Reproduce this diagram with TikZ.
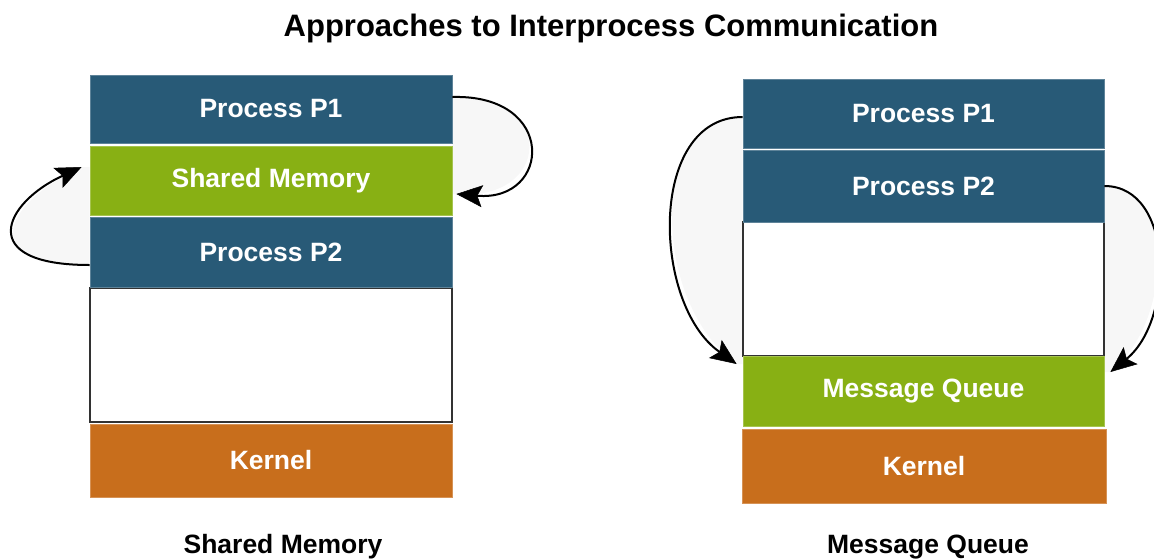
\documentclass[tikz,border=0pt]{standalone}
\usepackage{fontspec}
\setmainfont{Liberation Sans}
\usetikzlibrary{arrows.meta,backgrounds}
\definecolor{pblue}{RGB}{40,90,119}
\definecolor{sgreen}{RGB}{136,176,20}
\definecolor{korange}{RGB}{200,110,28}
\definecolor{edgegray}{RGB}{50,50,50}
\begin{document}
\begin{tikzpicture}[x=1pt,y=-1pt,
  layer/.style={rectangle, inner sep=0pt, draw=#1!75!white, line width=0.8pt, fill=#1,
    text=white, font=\fontsize{26.5}{30}\selectfont\bfseries},
  emptybox/.style={rectangle, inner sep=0pt, draw=edgegray, line width=1.5pt, fill=white},
  caption/.style={anchor=base, font=\fontsize{26.5}{30}\selectfont\bfseries, text=black},
  ipcarrow/.style={draw=black, line width=2pt,
    -{Stealth[length=26pt,width=22pt,inset=5pt,fill=black,line width=0.5pt]}},
  ipcshade/.style={fill=black!3}
]
\useasboundingbox (0,0) rectangle (1154,558);

% title
\node[anchor=base, font=\fontsize{31}{36}\selectfont\bfseries] (title) at (611,36) {Approaches to Interprocess Communication};

% left stack: shared memory
\node[emptybox, minimum width=362pt, minimum height=134pt] (lw) at (271,355) {};
\node[layer=pblue, minimum width=362pt, minimum height=68pt] (l1) at (271,109) {Process P1};
\node[layer=sgreen, minimum width=362pt, minimum height=69pt] (sm) at (271,180.5) {Shared Memory};
\node[layer=pblue, minimum width=362pt, minimum height=70pt] (l2) at (271,252) {Process P2};
\node[layer=korange, minimum width=362pt, minimum height=73pt] (lk) at (271,460.5) {Kernel};
\node[caption] (lcap) at (283,553) {Shared Memory};

% right stack: message queue
\node[emptybox, minimum width=361pt, minimum height=134pt] (rw) at (923.5,289) {};
\node[layer=pblue, minimum width=361pt, minimum height=69pt] (r1) at (923.5,113.5) {Process P1};
\node[layer=pblue, minimum width=361pt, minimum height=72pt] (r2) at (923.5,186) {Process P2};
\node[layer=sgreen, minimum width=361pt, minimum height=70pt] (mq) at (923.5,391) {Message Queue};
\node[layer=korange, minimum width=364pt, minimum height=74pt] (rk) at (924,466) {Kernel};
\node[caption] (rcap) at (928,553) {Message Queue};

% end points of the connectors
\coordinate (a1s) at ([yshift=12pt]l1.east);
\coordinate (a1e) at ([xshift=4pt,yshift=-13.5pt]sm.east);
\coordinate (a2s) at ([yshift=-13pt]l2.west);
\coordinate (a2e) at ([xshift=-8pt,yshift=13.5pt]sm.west);
\coordinate (a3s) at ([yshift=-3.5pt]r1.west);
\coordinate (a3e) at ([xshift=-6pt,yshift=27pt]mq.west);
\coordinate (a4s) at (r2.east);
\coordinate (a4e) at ([xshift=6pt,yshift=19pt]mq.east);

\begin{scope}[on background layer]
\fill[ipcshade] (a1s) .. controls +(105,-3) and +(95,8) .. (a1e) -- (a1e -| l1.east) -- cycle;
\fill[ipcshade] (a2s) .. controls +(-115,0) and +(-78,36) .. (a2e) -- (a2e -| l1.west) -- cycle;
\fill[ipcshade] (a3s) .. controls +(-95,0) and +(-85,-60) .. (a3e) -- (a3e -| r1.west) -- cycle;
\fill[ipcshade] (a4s) .. controls +(70,0) and +(64,-52) .. (a4e) -- (a4e -| r1.east) -- cycle;
\end{scope}

% arrows, left stack
\draw[ipcarrow] (a1s) .. controls +(105,-3) and +(95,8) .. (a1e);
\draw[ipcarrow] (a2s) .. controls +(-115,0) and +(-78,36) .. (a2e);
% arrows, right stack
\draw[ipcarrow] (a3s) .. controls +(-95,0) and +(-85,-60) .. (a3e);
\draw[ipcarrow] (a4s) .. controls +(70,0) and +(64,-52) .. (a4e);
\end{tikzpicture}
\end{document}
